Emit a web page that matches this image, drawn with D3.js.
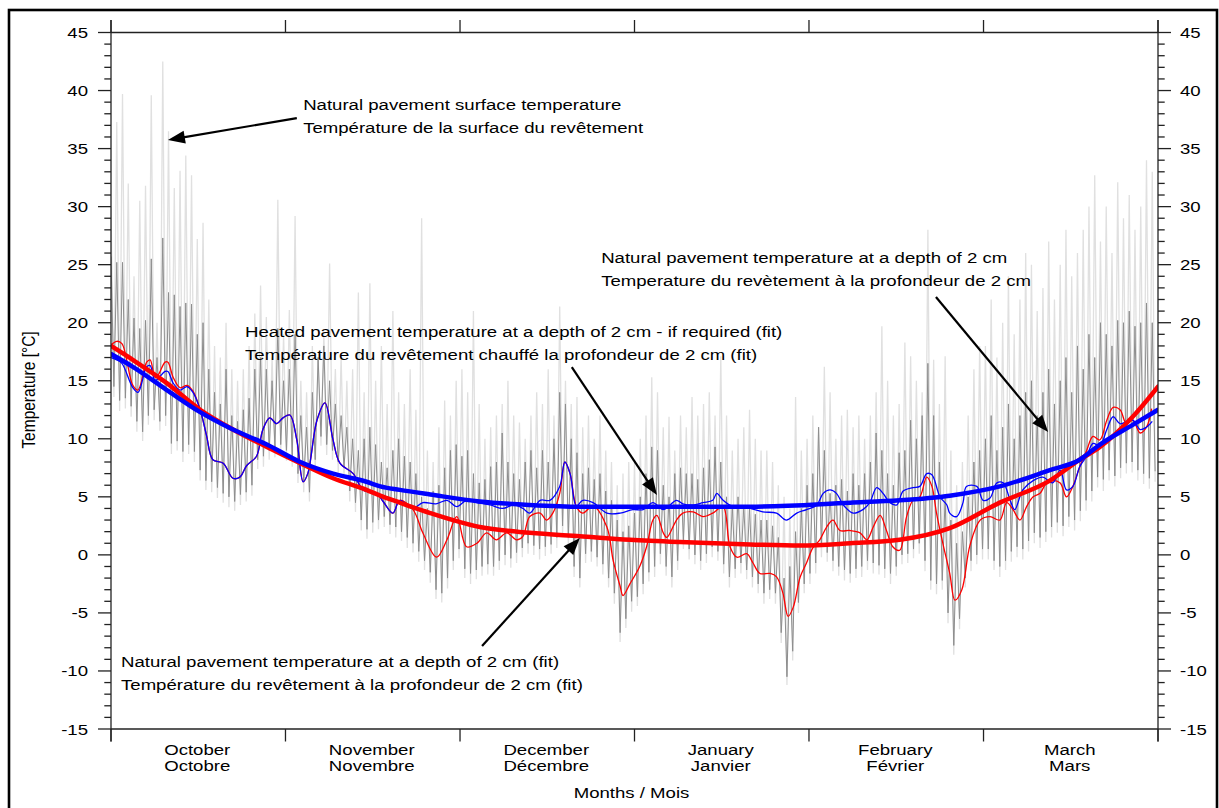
<!DOCTYPE html>
<html><head><meta charset="utf-8">
<script src="https://cdn.jsdelivr.net/npm/d3@7"></script>
<style>
body{margin:0;background:#fff}
svg{display:block}
text{font-family:Arial,"Liberation Sans",Helvetica,sans-serif;fill:#000}
</style>
</head><body>
<svg id="chart" width="1219" height="808"></svg>
<script>
// ---------- DATA ----------
const monthsEn = ["October","November","December","January","February","March"];
const monthsFr = ["Octobre","Novembre","Décembre","Janvier","Février","Mars"];
const monthTicks = [0, 30.33, 60.67, 91, 121.33, 151.67, 182]; // day positions of month boundaries
const yTickValues = [-15,-10,-5,0,5,10,15,20,25,30,35,40,45];

// daily maximum of natural pavement surface temperature (light grey), day 0..181
const surfMax = [
 30,37.3,39.7,32,24,30.5,31.8,39.6,20,42.5,36.5,31.6,33.1,34.4,32.7,27.2,28.6,22,18,17,20,16,15,16,18,20.8,23.2,20.5,17,30.6,19,
 21.1,29.2,15,14,18,17,19,25.1,16,17,15,16,22.6,14,23.4,15,18,13,21,14,13,16,12.5,29,9,8,11,13.3,12,15,
 16,14,21,13,10,11,12,13,15,12,11.4,10,12,14,13,16,12,21.4,15,13,13.6,11,12,10,12,9,8,6,7,8,
 8,10,12,15.3,14,11,11.9,9,12,11,13.6,12,13,14,12,17.1,12,9,10,11,12.5,10,9,9,8,6,5,4,13.6,9,10,
 12,11,16.2,14,10,12,12.5,11,12,10,12,14,19.7,15,12,13,18.3,17.1,15,14,28,16.8,13,17.1,9,6,8,12,16,18,
 18,22,17,20,24,19,22,26,25,21,23,27,22,25,28,24,26,28,30,32.7,27,30,26,32.1,29,31,28,30,34,33
];
// daily minimum of surface temperature
const surfMin = [
 13.6,12.4,12.6,11.9,10.6,9.8,11.2,11.6,10.7,11.1,8.7,9,8,8.7,8,6.4,5.6,5.4,4.9,4.5,4.1,3.8,4.3,4.6,5.1,7.4,7.6,8.2,8.4,8.7,8.1,
 7.6,6.2,5.4,4.6,7.4,9.4,8.6,8.2,7.1,6.8,4.6,3.7,2.1,1.4,1.9,2.2,2.4,1.8,1.5,1.2,0.6,0.2,-0.6,-1.3,-2.4,-3.8,-4.1,-2.9,-1.3,-0.3,
 -2,-2.5,-2.1,-1.8,-1.7,-1.8,-1.3,-0.9,-1.1,-0.7,-0.2,0.1,0,-0.4,-0.1,0.1,0.6,1.7,0.7,-1.9,-2.8,-0.7,-0.6,-1,-1.7,-2.8,-4.2,-7.5,-6.3,-4.9,
 -4.4,-3.4,-2.3,-1.9,-0.8,-1.8,-2.8,-1.3,0.5,-0.4,-0.8,-1.3,-0.7,-0.2,-0.5,-1.6,-2.8,-2,-1.6,-2.1,-2.8,-3.3,-4.2,-3.8,-4.2,-7.6,-11.2,-9.1,-5,-3.3,-2.5,
 -1.6,-0.2,-0.6,-1.4,-1.8,-2.2,-2.4,-2,-1.9,-1.3,-1.6,-1.7,-2,-2.5,-1.8,-0.8,-0.7,-0.3,0.1,-1.4,-3,-3.4,-3,-5.9,-8.6,-6.4,-2.8,-1.4,-0.8,-0.4,
 -0.4,-1.3,-1.9,-1.3,-0.6,-0.2,-0.4,0.3,1,0.6,1.1,1.5,1.9,1.6,2.4,2.1,2.9,3.8,4.6,5.8,5.5,6.4,5.9,6.6,7,7.1,6.4,6.1,5.7,6.3
];
// daily maximum of natural pavement temperature at 2 cm (dark grey)
const depthMax = [
 25.7,25.2,25.2,22,20.4,19.5,20.2,25.5,17,27.3,22.6,22.4,21.4,21.7,21.6,19,20,16,14,13,16,12,11.5,12.5,13.5,16,17,16,15,19.5,15,
 16,19,12,11,14,17,18,15,13,12,11,10,9,10,11,9.5,8,7.5,9,10,8.5,8,7,5,4,5.5,6,7.5,9,9.5,
 8.5,9,7,6.2,6.5,7.6,8,10.5,8,7,6.5,8,9,7.5,9,8,10,14,13,10,8.8,7,7.5,6.5,7,5.5,4.7,3,2,2.5,
 3.6,5,7,9.3,9,6,5,7,7.5,7,7,6.5,7.5,8.2,9.3,8,5,4.2,5,4.2,4,3.5,3,3,2.5,1.5,-2,-1,2,4,6,
 7,11,9,5.3,6,6.5,5.5,7,6,7,8,10.5,9,7,6,8.8,9,11.6,10,12,16.5,12,8,5,3,1,2,5,8,9,
 10,12,9,11,13,10,12,14,15,12,14,16,13,15,17,14,18,16,19,17,20,19,18,20.2,20,21,19.7,20,21.7,20
];
// daily minimum of natural pavement temperature at 2 cm
const depthMin = [
 14.5,13.3,13.5,12.8,11.5,10.6,12,12.5,11.5,12,9.6,9.8,8.9,9.5,8.9,7.3,6.4,6.3,5.8,5.3,5,4.6,5.2,5.4,6,8.2,8.5,9,9.3,9.5,9,
 8.5,7,6.3,5.4,8.2,10.2,9.5,9,8,7.6,5.5,4.5,3,2.2,2.8,3,3.3,2.6,2.4,2,1.5,1,0.3,-0.5,-1.5,-3,-3.3,-2,-0.5,0.5,
 -1.2,-1.6,-1.3,-1,-0.8,-1,-0.5,0,-0.3,0.2,0.6,1,0.8,0.5,0.7,0.9,1.5,2.5,1.5,-1,-2,0.1,0.3,-0.2,-0.8,-2,-3.3,-6.7,-5.5,-4,
 -3.6,-2.5,-1.5,-1,0.1,-1,-1.9,-0.5,1.3,0.5,0,-0.5,0.1,0.7,0.3,-0.8,-1.9,-1.2,-0.7,-1.3,-1.9,-2.5,-3.3,-3,-3.3,-6.7,-10.5,-8.3,-4.1,-2.5,-1.6,
 -0.7,0.7,0.2,-0.5,-1,-1.3,-1.6,-1.2,-1,-0.5,-0.7,-0.9,-1.2,-1.6,-1,0,0.1,0.5,1,-0.5,-2.2,-2.5,-2.2,-5,-7.8,-5.5,-2,-0.5,0,0.5,
 0.5,-0.5,-1,-0.5,0.3,0.7,0.5,1.2,1.9,1.5,2,2.4,2.8,2.5,3.3,3,3.8,4.7,5.5,6.7,6.5,7.3,6.8,7.5,7.9,8,7.3,7,6.6,7.2
];

// smoothed natural pavement temperature at 2 cm (thin red) [day, °C]
const naturalSmooth = [
 [0,18.1],[1,18.4],[1.9,18.2],[3.8,14.6],[4.7,14.2],[6.2,16.6],[6.8,16.8],[7.65,15.3],[8.2,15.5],[9.4,16.6],[9.9,16.6],[10.8,15.3],[12,14.4],[13.2,14.6],[14.25,14.1],
 [15.5,12.5],[16.6,10.3],[17.7,8.2],[19.5,7.9],[21.2,6.6],[22.4,6.7],[23.6,7.7],[25.3,8.5],[26.4,10.8],[27.6,11.8],[28.8,11.3],[29.9,11.8],[31.1,12.05],[32.3,9.9],
 [33.4,6.3],[34.2,7.0],[35.8,11.6],[37.2,13.1],[38.6,9.9],[39.8,7.9],[42.1,7.0],[43.8,5.6],[46.2,5.3],[47.3,4.6],[49,3.6],[50.2,4.7],[52.5,3.9],[54.2,1.9],[56.6,-0.2],
 [58.4,1.3],[60.1,3.3],[61.8,0.7],[63.6,1.0],[65.3,1.9],[67,1.3],[68.8,1.9],[70.5,1.3],[71.6,1.6],[72.8,3.3],[74.6,3.6],[75.7,3.0],[76.8,3.6],[78,5.3],[78.9,8.0],
 [79.8,7.0],[80.9,4.15],[82,3.6],[83.8,4.2],[86.2,2.4],[87.3,-0.5],[88.5,-2.7],[89,-3.5],[90.2,-2.5],[91.9,-1.0],[93.1,0.7],[94.2,3.0],[94.9,3.4],[96,1.9],[96.6,1.5],
 [98.3,3.0],[99.4,3.6],[101.2,3.7],[102.9,3.3],[104.6,3.6],[106.4,4.15],[107.6,0.7],[108.8,-0.2],[110.5,0.1],[111.6,-0.7],[112.8,-1.6],[114.6,-1.6],[115.7,-1.9],
 [116.8,-3.3],[117.7,-5.3],[118.6,-4.5],[119.8,-1.9],[120.9,-0.7],[122,0.6],[123.2,1.3],[124.4,2.4],[125.5,3.0],[126.7,2.1],[128.4,2.1],[130.2,1.9],[131.4,1.3],
 [132.5,2.4],[133.7,3.4],[134.8,2.1],[135.9,0.7],[137.1,0.4],[138.3,3.3],[139.4,4.7],[140.6,5.0],[141.8,6.7],[142.7,5.9],[143.5,3.6],[144.6,1.0],[145.8,-1.6],
 [146.7,-3.9],[147.9,-3.0],[149.3,0.8],[151.1,3.0],[152.8,3.3],[154.5,3.0],[155.7,4.5],[156.8,3.9],[158,3.0],[159.2,4.2],[160.3,5.0],[161.5,5.3],[162.6,6.2],
 [163.7,6.4],[165,6.2],[166.1,5.0],[167.2,5.9],[168.4,7.6],[169.6,9.0],[170.7,10.2],[171.9,9.9],[173.1,11.6],[174.2,12.7],[175.4,12.5],[176.5,11.3],[177.6,11.6],
 [178.9,10.5],[180,11.0],[180.9,12.6]
];
// smoothed heated pavement temperature at 2 cm (thin blue) [day, °C]
const heatedSmooth = [
 [0,17.0],[1,16.8],[1.9,16.5],[3.8,14.4],[4.7,14.0],[6.2,16.2],[6.8,16.3],[7.65,15.0],[8.2,15.2],[9.4,15.8],[9.9,15.8],[10.8,14.8],[12,14.2],[13.2,14.5],[14.25,14.0],
 [15.5,12.5],[16.6,10.3],[17.7,8.2],[19.5,7.9],[21.2,6.6],[22.4,6.7],[23.6,7.7],[25.3,8.5],[26.4,10.8],[27.6,11.8],[28.8,11.3],[29.9,11.8],[31.1,12.05],[32.3,9.9],
 [33.4,6.3],[34.2,7.0],[35.8,11.6],[37.2,13.1],[38.6,9.9],[39.8,7.9],[42.1,7.0],[43.8,5.6],[46.2,5.3],[47.3,4.6],[49,3.6],[50.2,4.7],[52.5,4.0],[54.2,4.5],[56.5,4.4],
 [58.4,4.7],[60.1,4.15],[61.8,4.7],[63.6,4.5],[65.9,4.3],[68.1,4.0],[70,4.3],[71.6,4.0],[72.8,3.6],[74.6,4.7],[76.3,4.7],[78,5.9],[78.9,8.0],[79.8,7.0],[80.9,4.2],
 [82,4.7],[83.8,4.5],[86.2,3.6],[88.5,3.6],[90.7,3.9],[92.5,3.9],[94.2,4.5],[96,3.9],[98.3,4.7],[99.4,4.4],[101.2,4.3],[102.9,4.5],[104.6,4.7],[105.3,5.3],[106.4,4.7],
 [108.1,4.15],[111.1,4.0],[113.3,3.7],[115.7,3.6],[117.4,3.0],[119.2,3.6],[120.9,3.9],[122.7,4.3],[123.8,5.3],[125,5.6],[126.1,5.3],[127.3,4.3],[129,3.6],[130.7,3.9],
 [131.9,4.5],[133.1,5.8],[134.2,5.3],[135.4,4.5],[136.6,4.3],[137.7,5.5],[139.4,5.8],[140.6,5.9],[141.8,7.0],[142.7,6.9],[144.1,5.0],[145.3,4.3],[145.8,3.6],[147,3.3],
 [148.1,4.5],[148.7,5.9],[150.5,5.9],[151.6,4.7],[152.8,4.9],[154,6.2],[155.1,6.2],[156.3,4.7],[157.1,3.9],[158.5,5.6],[160.3,6.4],[162,6.7],[163.7,6.2],[165,7.3],
 [166.1,5.6],[167.2,5.9],[168.4,7.6],[169.6,8.5],[170.7,9.6],[171.9,9.4],[173.1,10.8],[174.2,11.9],[175.4,11.3],[177.6,11.6],[178.9,10.8],[180,11.0],[181,11.5]
];
// fitted curves [day, °C]
const naturalFit = [
 [0,18.0],[3.8,16.8],[9.7,14.8],[15.5,12.5],[21.2,10.8],[27.1,9.3],[32.9,7.9],[38.6,6.6],[44.4,5.6],[46.8,5.1],[50.2,4.5],[55.5,3.6],[64.1,2.4],
 [72.8,1.9],[81.5,1.6],[90.2,1.3],[98.9,1.1],[111.1,0.9],[119.8,0.8],[128.5,1.0],[137.1,1.3],[145.8,2.3],[154.5,4.5],[163.2,6.4],[168.4,8.2],
 [171.9,9.3],[177.6,11.9],[182,14.5]
];
const heatedFit = [
 [0,17.3],[3.8,16.2],[9.7,14.2],[15.5,12.3],[21.2,10.8],[27.1,9.5],[32.9,8.0],[38.6,7.0],[44.4,6.3],[46.8,5.9],[50.2,5.6],[55.5,5.2],[64.1,4.6],
 [72.8,4.3],[81.5,4.15],[98.9,4.15],[111.1,4.15],[128.5,4.5],[137.1,4.7],[145.8,5.1],[154.5,5.9],[163.2,7.3],[168.4,8.2],[171.9,9.5],[177.6,11.2],[182,12.5]
];

// annotations: text anchor [day, °C] and arrow from/to [day, °C]
const annotations = [
 {lines:["Natural pavement surface temperature","Température de la surface du revêtement"], at:[33.4,38.32], from:[32.3,37.63], to:[9.9,35.74]},
 {lines:["Natural pavement temperature at a depth of 2 cm","Temperature du revètement à la profondeur de 2 cm"], at:[85.2,25.14], from:[143.4,22.22], to:[162.9,10.58]},
 {lines:["Heated pavement temperature at a depth of 2 cm - if required (fit)","Température du revêtement chauffé la profondeur de 2 cm (fit)"], at:[23.3,18.73], from:[80.1,16.18], to:[94.9,5.16]},
 {lines:["Natural pavement temperature at a depth of 2 cm (fit)","Température du revêtement à la profondeur de 2 cm (fit)"], at:[1.74,-9.70], from:[64.5,-7.85], to:[81.5,1.45]}
];

// ---------- DRAW ----------
const L = 111, R = 1158, T = 32.5, B = 729;
const SX = 1.2; // horizontal stretch of text in the reference
const FS = 15.5;
const svg = d3.select("#chart");
const x = d3.scaleLinear().domain([0,182]).range([L,R]);
const y = d3.scaleLinear().domain([-15,45]).range([B,T]);

// outer frame
svg.append("rect").attr("x",9).attr("y",10).attr("width",1208).attr("height",820)
  .attr("fill","none").attr("stroke","#000").attr("stroke-width",2.6);

svg.append("defs").append("clipPath").attr("id","clip")
  .append("rect").attr("x",L).attr("y",T).attr("width",R-L).attr("height",B-T);

const plot = svg.append("g").attr("clip-path","url(#clip)");

function zigzag(maxArr, minArr){
  const pts = [];
  maxArr.forEach((v,i)=>{ pts.push([i, v]); pts.push([i+0.5, minArr[i]]); });
  return pts;
}
const lineLin = d3.line().x(d=>x(d[0])).y(d=>y(d[1]));
const lineSmooth = d3.line().x(d=>x(d[0])).y(d=>y(d[1])).curve(d3.curveCatmullRom.alpha(0.5));
const lineFit = d3.line().x(d=>x(d[0])).y(d=>y(d[1])).curve(d3.curveMonotoneX);

plot.append("path").attr("d", lineLin(zigzag(surfMax, surfMin)))
  .attr("fill","none").attr("stroke","#e0e0e0").attr("stroke-width",1.3);
plot.append("path").attr("d", lineLin(zigzag(depthMax, depthMin)))
  .attr("fill","none").attr("stroke","#8e8e8e").attr("stroke-width",1.0);
plot.append("path").attr("d", lineSmooth(naturalSmooth))
  .attr("fill","none").attr("stroke","#ff0000").attr("stroke-width",1.3);
plot.append("path").attr("d", lineSmooth(heatedSmooth))
  .attr("fill","none").attr("stroke","#0000ff").attr("stroke-width",1.3);
plot.append("path").attr("d", lineFit(naturalFit))
  .attr("fill","none").attr("stroke","#ff0000").attr("stroke-width",4.5).attr("stroke-linecap","round");
plot.append("path").attr("d", lineFit(heatedFit))
  .attr("fill","none").attr("stroke","#0000ff").attr("stroke-width",4.5).attr("stroke-linecap","round");

// axes
const ax = svg.append("g").attr("stroke","#222").attr("stroke-width",1.3);
ax.append("line").attr("x1",L).attr("x2",R).attr("y1",T).attr("y2",T);
ax.append("line").attr("x1",L).attr("x2",R).attr("y1",B).attr("y2",B);
ax.append("line").attr("x1",L).attr("x2",L).attr("y1",T-12.5).attr("y2",B+12.5);
ax.append("line").attr("x1",R).attr("x2",R).attr("y1",T-12.5).attr("y2",B+12.5);
monthTicks.forEach(m=>{
  ax.append("line").attr("x1",x(m)).attr("x2",x(m)).attr("y1",T-12.5).attr("y2",T);
  ax.append("line").attr("x1",x(m)).attr("x2",x(m)).attr("y1",B).attr("y2",B+12.5);
});
d3.range(-15,46,1).forEach(v=>{
  const major = v%5===0;
  const len = major?13:6.7;
  ax.append("line").attr("x1",L-len).attr("x2",L).attr("y1",y(v)).attr("y2",y(v));
  ax.append("line").attr("x1",R).attr("x2",R+len).attr("y1",y(v)).attr("y2",y(v));
});

function txt(px, py, s, anchor, extra){
  return svg.append("text")
    .attr("transform",`translate(${px},${py}) scale(${SX},1)${extra||""}`)
    .attr("text-anchor",anchor||"start").attr("font-size",FS).text(s);
}
yTickValues.forEach(v=>{
  txt(L-23, y(v)+5.5, String(v), "end");
  txt(R+22, y(v)+5.5, String(v), "start");
});
monthsEn.forEach((m,i)=>{
  const cx = (x(monthTicks[i])+x(monthTicks[i+1]))/2;
  txt(cx-1, 755, m, "middle");
  txt(cx-1, 771, monthsFr[i], "middle");
});
txt((L+R)/2-3, 798, "Months / Mois", "middle");
txt(35, 390, "Temperature [°C]", "middle", " rotate(-90)");

// annotations
annotations.forEach(a=>{
  a.lines.forEach((s,k)=>txt(x(a.at[0]), y(a.at[1]) + k*23, s, "start"));
  const x1=x(a.from[0]), y1=y(a.from[1]), x2=x(a.to[0]), y2=y(a.to[1]);
  const ang = Math.atan2(y2-y1, x2-x1);
  const hl = 17, hw = 6.5;
  const bx = x2 - hl*Math.cos(ang), by = y2 - hl*Math.sin(ang);
  svg.append("line").attr("x1",x1).attr("y1",y1).attr("x2",bx+3*Math.cos(ang)).attr("y2",by+3*Math.sin(ang))
    .attr("stroke","#000").attr("stroke-width",2.2);
  const p = [[x2,y2],[bx - hw*Math.sin(ang), by + hw*Math.cos(ang)],[bx + hw*Math.sin(ang), by - hw*Math.cos(ang)]];
  svg.append("polygon").attr("points", p.map(q=>q.join(",")).join(" ")).attr("fill","#000");
});
</script>
</body></html>
